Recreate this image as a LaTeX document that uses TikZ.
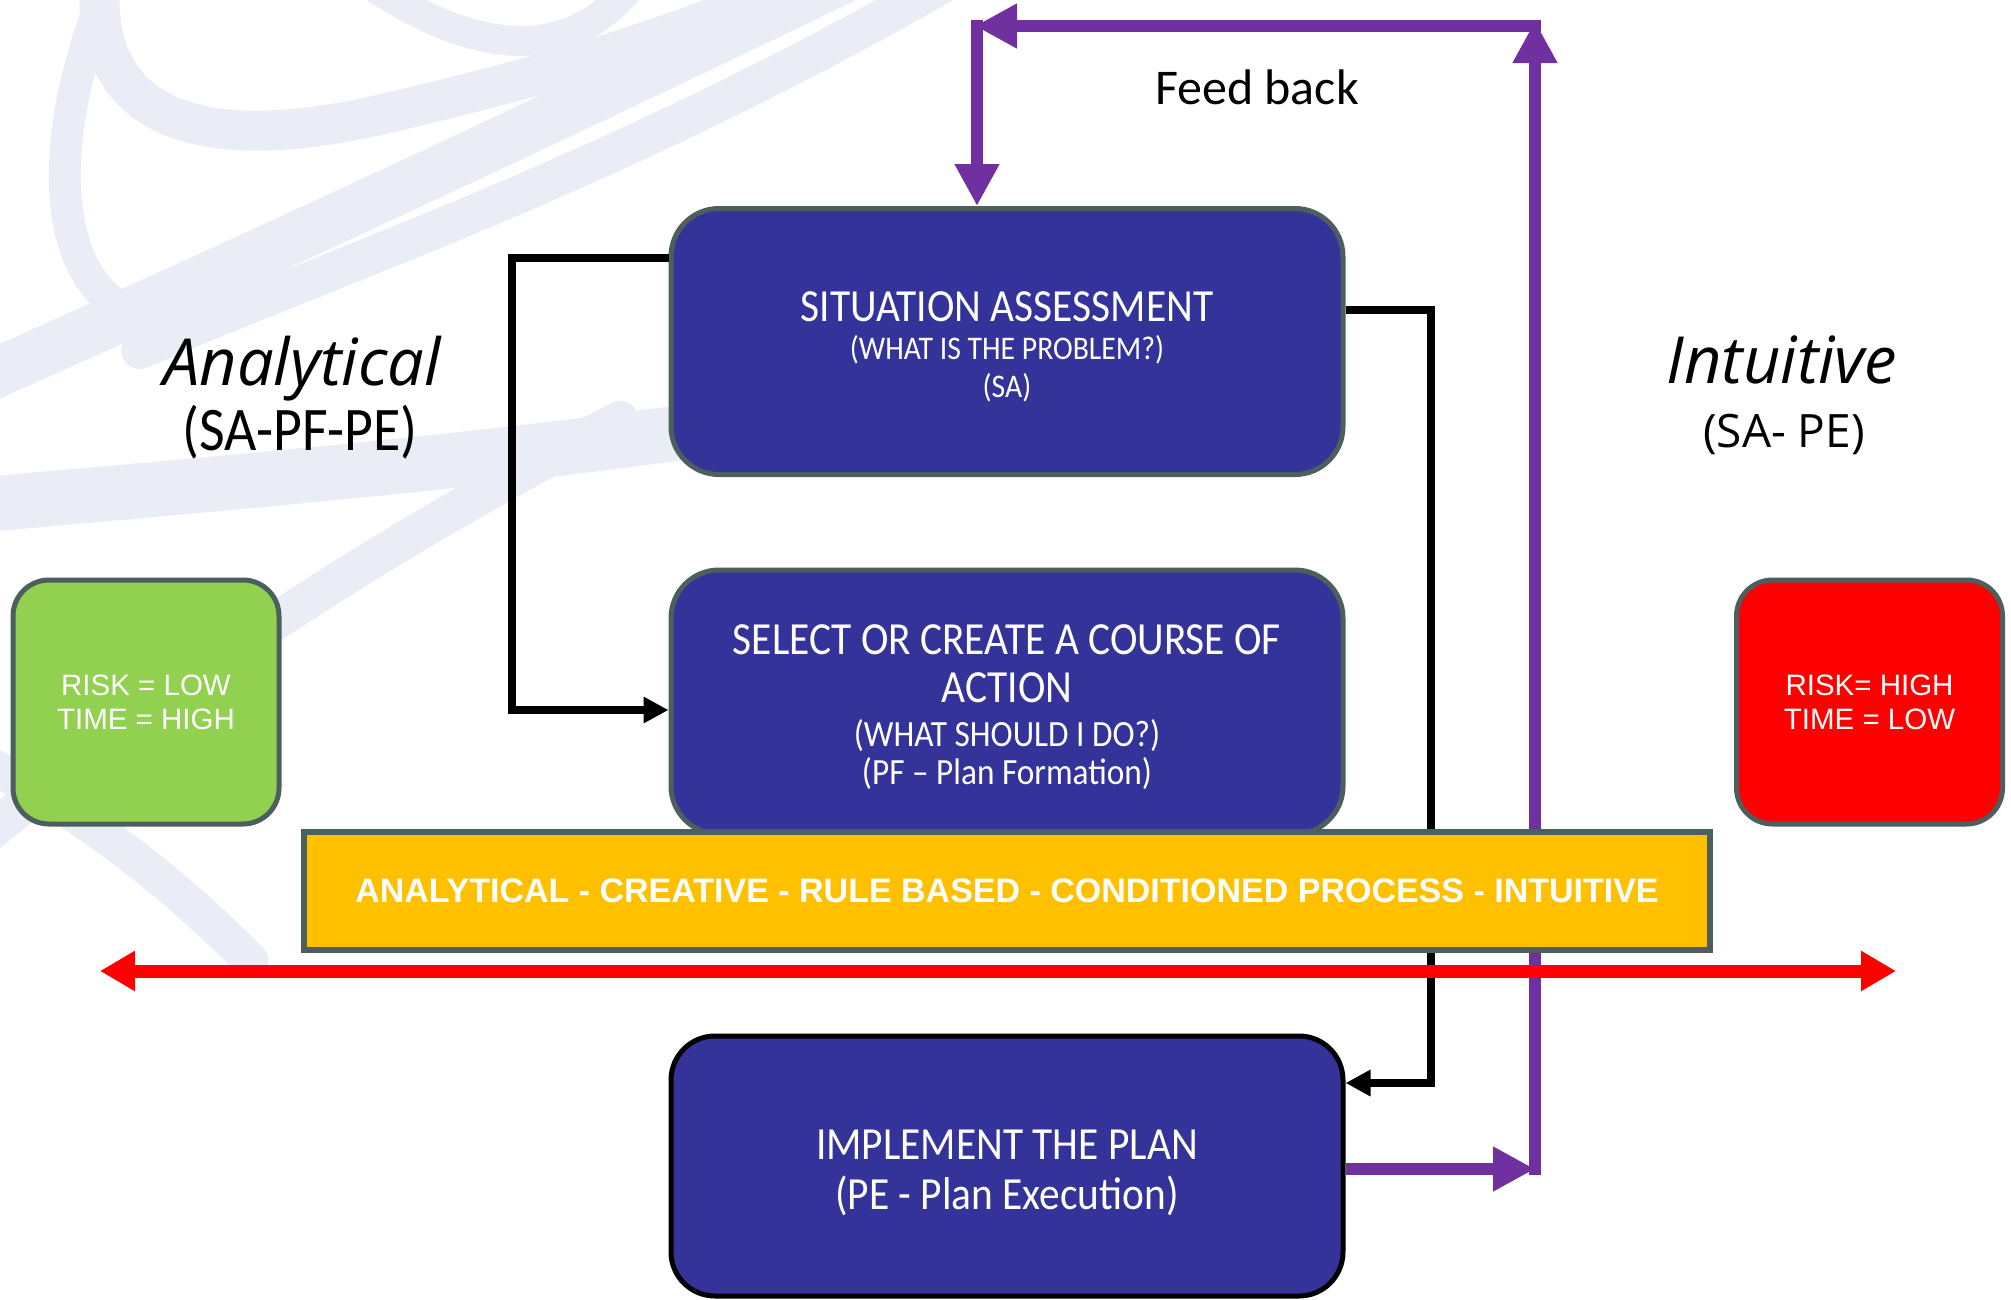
\documentclass[tikz,border=0pt]{standalone}
\usepackage{fontspec}
\setmainfont{Carlito}
\newfontfamily\lightf[FakeStretch=0.9]{Carlito}
\newfontfamily\arialf{Liberation Sans}
\newfontfamily\segoef{Open Sans}
\usetikzlibrary{arrows.meta}
\definecolor{boxblue}{HTML}{333399}
\definecolor{bordgray}{HTML}{4D5E5E}
\definecolor{fbpurple}{HTML}{7030A0}
\definecolor{riskgreen}{HTML}{92D050}
\definecolor{riskred}{HTML}{FF0000}
\definecolor{bandyellow}{HTML}{FFC000}
\definecolor{swirl}{HTML}{EAEDF6}
\tikzset{
  procbox/.style={draw=bordgray, line width=5pt, fill=boxblue, rounded corners=48pt,
    inner sep=0pt, minimum width=672pt},
  boxtext/.style={text=white, align=center, inner sep=0pt},
  riskbox/.style={draw=bordgray, line width=5pt, rounded corners=36pt, inner sep=0pt,
    minimum width=266pt, minimum height=244pt, text=white, align=center,
    font=\arialf\fontsize{29.5}{34}\selectfont},
  purp/.style={draw=fbpurple, line width=12pt, line cap=butt,
    -{Triangle[length=42pt,width=42pt]}},
  blk/.style={draw=black, line width=8pt, line join=miter,
    -{Triangle[length=25pt,width=25pt]}},
  swirlband/.style={draw=swirl, line cap=round},
  sidetitle/.style={inner sep=0pt, anchor=base},
}
\begin{document}
\begin{tikzpicture}[x=1pt,y=-1pt]
\useasboundingbox (0,0) rectangle (2011,1299);
\fill[white] (0,0) rectangle (2011,1299);
% background watermark swirls
\draw[swirlband, line width=40pt] (100,-20) .. controls (90,120) and (200,160) .. (400,110)
   .. controls (550,75) and (700,30) .. (800,-20);
\draw[swirlband, line width=32pt] (110,-20) .. controls (40,150) and (60,260) .. (110,300);
\draw[swirlband, line width=50pt] (-20,380) .. controls (250,260) and (550,120) .. (840,-20);
\draw[swirlband, line width=38pt] (140,350) .. controls (350,260) and (620,170) .. (950,-20);
\draw[swirlband, line width=55pt] (-20,505) .. controls (200,485) and (450,465) .. (700,430);
\draw[swirlband, line width=38pt] (-20,840) .. controls (150,700) and (350,560) .. (620,420);
\draw[swirlband, line width=36pt] (-20,760) .. controls (60,800) and (150,860) .. (250,960);
\draw[swirlband, line width=30pt] (364,-20) .. controls (450,40) and (560,80) .. (636,-20);

% side titles
\node[sidetitle, font=\segoef\itshape\fontsize{65}{70}\selectfont] (antitle) at (302,385) {Analytical};
\node[sidetitle, font=\lightf\fontsize{62}{66}\selectfont] (ansub) at (300,450) {(SA-PF-PE)};
\node[sidetitle, font=\segoef\itshape\fontsize{65}{70}\selectfont] (intitle) at (1782,383) {Intuitive};
\node[sidetitle, font=\segoef\fontsize{46}{50}\selectfont] (insub) at (1784,447) {(SA- PE)};
\node[sidetitle, font=\fontsize{50}{56}\selectfont] (fb) at (1257,104) {Feed back};

% coordinates for connectors
\coordinate (b1) at (512,258);
\coordinate (b2) at (512,710);
\coordinate (c1) at (1431,310);
\coordinate (c2) at (1431,1083);
\coordinate (pR) at (1535,1169);
\coordinate (pRv) at (1535,1175);
\coordinate (pUp) at (1535,21);
\coordinate (pTR) at (1541,26);
\coordinate (pTL) at (975,26);
\coordinate (pTLv) at (977,20);

% process boxes
\node[procbox, minimum height=266pt] (sa) at (1007,341.5) {};
\node[procbox, minimum height=264pt] (pf) at (1007,702) {};
\node[procbox, draw=black, minimum height=260pt, rounded corners=44pt] (impl) at (1007,1166) {};

% connectors
\draw[blk] (b1 -| sa.west) -- (b1) -- (b2) -- (b2 -| pf.west);
\draw[blk] (c1 -| sa.east) -- (c1) -- (c2) -- (c2 -| impl.east);
\draw[purp] (pR -| impl.east) -- (pR);
\draw[purp] (pRv) -- (pUp);
\draw[purp] (pTR) -- (pTL);
\draw[purp] (pTLv) -- (pTLv |- sa.north);

% texts in process boxes
\node[boxtext, font=\lightf\fontsize{33}{38}\selectfont] (satext) at (1007,347)
  {{\fontsize{46}{50}\selectfont SITUATION ASSESSMENT}\\(WHAT IS THE PROBLEM?)\\(SA)};
\node[boxtext, font=\lightf\fontsize{37}{38}\selectfont] (pftext) at (1007,707.5)
  {{\fontsize{46}{50}\selectfont SELECT OR CREATE A COURSE OF}\\[10pt]
   {\fontsize{46}{50}\selectfont ACTION}\\[6pt]
   (WHAT SHOULD I DO?)\\(PF – Plan Formation)};
\node[boxtext, font=\lightf\fontsize{46}{50}\selectfont] (impltext) at (1007,1173)
  {IMPLEMENT THE PLAN\\(PE - Plan Execution)};

% risk boxes
\node[riskbox, fill=riskgreen] (green) at (146,702) {RISK = LOW\\TIME = HIGH};
\node[riskbox, fill=riskred] (redb) at (1869.5,702) {RISK= HIGH\\TIME = LOW};

% yellow band
\node[draw=bordgray, line width=6pt, fill=bandyellow, minimum width=1406pt, minimum height=118pt,
  inner sep=0pt, text=white, font=\arialf\bfseries\fontsize{34}{40}\selectfont] (band) at (1007,891)
  {ANALYTICAL - CREATIVE - RULE BASED - CONDITIONED PROCESS - INTUITIVE};

% red double arrow
\coordinate (rL) at (100,971);
\coordinate (rR) at (1896,971);
\draw[draw=riskred, line width=13pt,
  {Triangle[length=35pt,width=38pt]}-{Triangle[length=35pt,width=38pt]}] (rL) -- (rR);
\end{tikzpicture}
\end{document}
